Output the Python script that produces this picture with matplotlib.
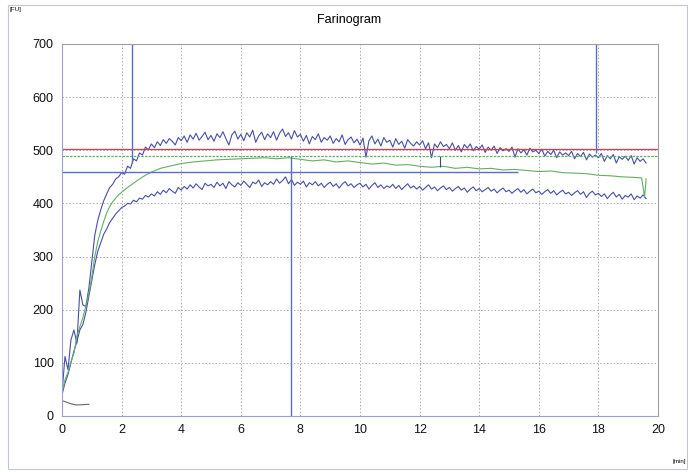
import matplotlib.pyplot as plt
import numpy as np
from matplotlib.patches import Rectangle

plt.rcParams['font.family'] = ['Liberation Sans', 'DejaVu Sans']

# sample grid of the two consistency curves (0.1 min steps)
time = np.round(np.arange(0, 19.65, 0.1), 1)

upper_fu = [
    43, 112, 87, 143, 162, 137, 237, 209, 206, 240,
    290, 340, 368, 388, 405, 418, 430, 436, 446, 450,
    458, 455, 470, 466, 484, 480, 495, 491, 506, 501,
    512, 505, 516, 509, 520, 513, 522, 517, 510, 524,
    518, 527, 515, 529, 521, 532, 519, 526, 534, 520,
    528, 517, 531, 524, 535, 522, 510, 529, 536, 521,
    530, 518, 533, 525, 538, 515, 527, 534, 520, 531,
    524, 535, 519, 532, 540, 526, 533, 521, 537, 525,
    530, 517, 528, 512, 526, 520, 531, 515, 524, 519,
    527, 513, 522, 516, 529, 511, 520, 525, 514, 521,
    510, 523, 487, 518, 527, 512, 521, 508, 524, 515,
    519, 506, 522, 511, 517, 504, 520, 513, 508, 516,
    510, 518, 503, 514, 486, 512, 505, 516, 507, 511,
    503, 514, 500, 509, 497, 511, 504, 512, 499, 507,
    502, 510, 496, 506, 500, 508, 494, 505, 499, 503,
    498, 506, 487, 503, 495, 501, 491, 504, 497, 500,
    494, 502, 489, 498, 492, 500, 486, 497, 491, 495,
    490, 498, 484, 494, 488, 496, 482, 493, 487, 491,
    486, 494, 479, 490, 484, 492, 476, 488, 483, 489,
    481, 490, 474, 486, 479, 484, 476,
]

lower_fu = [
    40, 62, 78, 100, 122, 140, 162, 172, 195, 225,
    255, 285, 310, 326, 342, 352, 364, 372, 380, 386,
    392, 395, 400, 399, 406, 403, 410, 408, 415, 412,
    418, 414, 422, 417, 425, 420, 428, 423, 419, 430,
    425, 432, 427, 435, 429, 437, 431, 426, 438, 433,
    436, 430, 440, 433, 438, 428, 441, 435, 431, 439,
    434, 442, 436, 430, 440, 437, 444, 432, 439, 435,
    441, 436, 446, 438, 443, 450, 437, 445, 434, 440,
    436, 442, 431, 439, 435, 441, 433, 438, 430, 436,
    440, 432, 437, 429, 436, 441, 433, 437, 430, 435,
    438, 431, 436, 427, 434, 439, 430, 435, 428, 433,
    430, 436, 428, 434, 426, 432, 437, 429, 433, 427,
    432, 425, 430, 435, 427, 431, 424, 429, 433, 426,
    430, 423, 428, 432, 425, 429, 421, 427, 431, 424,
    428, 422, 426, 430, 423, 427, 420, 425, 429, 422,
    425, 419, 424, 428, 421, 426, 418, 423, 427, 420,
    423, 417, 422, 426, 419, 424, 416, 421, 425, 418,
    421, 415, 420, 424, 417, 422, 411, 419, 423, 416,
    419, 413, 418, 409, 416, 421, 412, 417, 408, 415,
    412, 418, 407, 414, 410, 416, 409,
]

# middle (mean) curve
mid_time = [0, 0.1, 0.2, 0.3, 0.4, 0.5, 0.6, 0.7, 0.8, 0.9,
            1.0, 1.1, 1.2, 1.3, 1.4, 1.5, 1.6, 1.7, 1.8, 1.9,
            2.0, 2.2, 2.4, 2.6, 2.8, 3.0, 3.3, 3.6,
            4.0, 4.4, 4.8, 5.2, 5.6, 6.0, 6.4, 6.8, 7.2, 7.6,
            8.0, 8.4, 8.8, 9.2, 9.6, 10.0, 10.4, 10.8, 11.2, 11.6,
            12.0, 12.4, 12.8, 13.2, 13.6, 14.0, 14.4, 14.8, 15.2, 15.6,
            16.0, 16.4, 16.8, 17.2, 17.6, 18.0, 18.4, 18.8, 19.2,
            19.45, 19.55, 19.6]
mid_fu = [45, 68, 82, 102, 118, 150, 168, 185, 207, 230,
          262, 300, 328, 348, 366, 382, 394, 403, 410, 416,
          421, 430, 438, 446, 453, 459, 466, 470,
          475, 478, 480, 482, 483, 484, 485, 486, 484, 486,
          483, 480, 482, 478, 480, 477, 474, 476, 472, 473,
          470, 468, 470, 466, 468, 465, 466, 463, 464, 462,
          460, 461, 458, 457, 456, 453, 452, 450, 449,
          448, 412, 446]

# small trace at the start
start_time = [0, 0.15, 0.3, 0.45, 0.6, 0.9]
start_fu = [29, 26, 23, 21, 21, 22]

# evaluation marks
consistency_line = 503
mid_line = 489
tolerance_line = 460
tolerance_end = 15.3
arrival_time = 2.35
arrival_fu = 476
stability_time = 7.68
stability_fu = 489
departure_time = 17.92
departure_fu = 495
drop_time = 12.68
drop_range = (469, 489)

curve_blue = '#4650a8'
mark_blue = '#5b6ec4'
green = '#62b062'

fig = plt.figure(figsize=(6.88, 4.72), dpi=100)
ax = fig.add_axes([62 / 688, 1 - 416 / 472, 596 / 688, 372 / 472])

# figure frame
fig.add_artist(Rectangle((8 / 688, 3 / 472), 0.999 - 8 / 688, 464 / 472,
                         transform=fig.transFigure, fill=False,
                         edgecolor='#c4c4dc', linewidth=0.8))

ax.plot(time, upper_fu, color=curve_blue, linewidth=0.8)
ax.plot(time, lower_fu, color=curve_blue, linewidth=0.8)
ax.plot(mid_time, mid_fu, color=green, linewidth=0.8)
ax.plot(start_time, start_fu, color='#5f6f5f', linewidth=0.8)

ax.axhline(consistency_line, color='#e03a48', linewidth=0.9)
ax.axhline(mid_line, color=green, linewidth=0.9, linestyle=(0, (2, 1)))
ax.hlines(tolerance_line, 0, tolerance_end, color=mark_blue, linewidth=1.0)
ax.vlines(arrival_time, arrival_fu, 700, color=mark_blue, linewidth=1.0)
ax.vlines(stability_time, 0, stability_fu, color=mark_blue, linewidth=1.0)
ax.vlines(departure_time, departure_fu, 700, color=mark_blue, linewidth=1.0)
ax.vlines(drop_time, drop_range[0], drop_range[1], color='#404860', linewidth=0.8)

ax.set_xlim(0, 20)
ax.set_ylim(0, 700)
ax.set_xticks(np.arange(0, 21, 2))
ax.set_yticks(np.arange(0, 701, 100))
ax.tick_params(length=0, labelsize=9, pad=6, colors='#111111')
ax.grid(True, color='#a8a8b8', linestyle=(0, (1.5, 2)), linewidth=0.7)
for side in ['left', 'bottom']:
    ax.spines[side].set_color('#9aa0d0')
for side in ['top', 'right']:
    ax.spines[side].set_color('#a0a0a0')
for side in ax.spines:
    ax.spines[side].set_linewidth(0.8)

fig.text(349 / 688, 1 - 20 / 472, 'Farinogram', ha='center', va='center', fontsize=9)
fig.text(9 / 688, 1 - 10 / 472, '[FU]', ha='left', va='center', fontsize=4.5)
fig.text(686 / 688, 1 - 462 / 472, '[min]', ha='right', va='center', fontsize=4.5)

fig.savefig('out.png', dpi=100)
